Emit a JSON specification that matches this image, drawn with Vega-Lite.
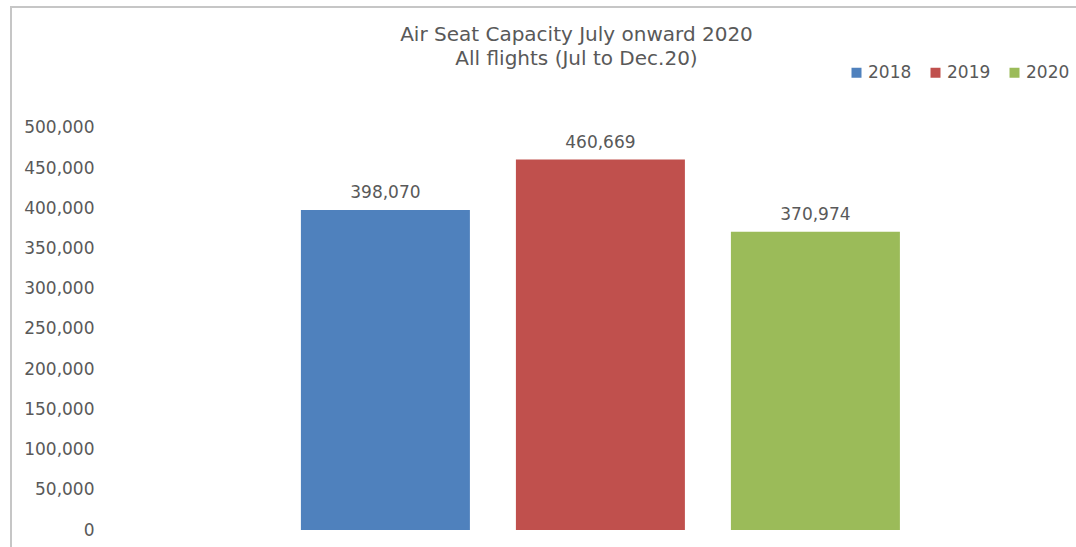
{
  "$schema": "https://vega.github.io/schema/vega-lite/v6.json",
  "width": 1075,
  "height": 550,
  "autosize": {"type": "none"},
  "padding": {"left": 11, "top": 7, "right": -10, "bottom": -10},
  "background": "white",
  "config": {
    "view": {"stroke": "#c6c6c6", "strokeWidth": 2},
    "font": "DejaVu Sans"
  },
  "title": {
    "text": ["Air Seat Capacity July onward 2020", "All flights (Jul to Dec.20)"],
    "fontSize": 20,
    "fontWeight": "normal",
    "font": "DejaVu Sans",
    "color": "#595959",
    "lineHeight": 24,
    "anchor": "middle",
    "dx": 28,
    "offset": -62
  },
  "data": {
    "values": [
      {"year": "2018", "seats": 398070},
      {"year": "2019", "seats": 460669},
      {"year": "2020", "seats": 370974}
    ]
  },
  "encoding": {
    "x": {
      "field": "year",
      "type": "nominal",
      "axis": null,
      "scale": {"domain": [" ", "2018", "2019", "2020"], "paddingInner": 0.214, "paddingOuter": 0.607, "align": 0.287}
    },
    "y": {
      "field": "seats",
      "type": "quantitative",
      "scale": {"domain": [-33582, 650497], "nice": false},
      "axis": {
        "title": null,
        "values": [0, 50000, 100000, 150000, 200000, 250000, 300000, 350000, 400000, 450000, 500000],
        "format": ",d",
        "domain": false,
        "ticks": false,
        "tickSize": 0,
        "grid": false,
        "labelPadding": -83,
        "labelFontSize": 17,
        "labelColor": "#595959",
        "labelFont": "DejaVu Sans"
      }
    }
  },
  "layer": [
    {
      "mark": {"type": "bar"},
      "encoding": {
        "color": {
          "field": "year",
          "type": "nominal",
          "scale": {"domain": ["2018", "2019", "2020"], "range": ["#4F81BD", "#C0504D", "#9BBB59"]},
          "legend": {
            "orient": "none",
            "legendX": 837,
            "legendY": 57,
            "direction": "horizontal",
            "title": null,
            "symbolType": "square",
            "symbolSize": 100,
            "symbolStrokeWidth": 0,
            "labelFontSize": 17,
            "labelColor": "#595959",
            "labelFont": "DejaVu Sans",
            "labelOffset": 3,
            "columnPadding": 15,
            "padding": 0
          }
        }
      }
    },
    {
      "mark": {"type": "text", "baseline": "alphabetic", "dy": -12, "fontSize": 17, "color": "#595959", "font": "DejaVu Sans"},
      "encoding": {
        "text": {"field": "seats", "type": "quantitative", "format": ",d"}
      }
    }
  ]
}
